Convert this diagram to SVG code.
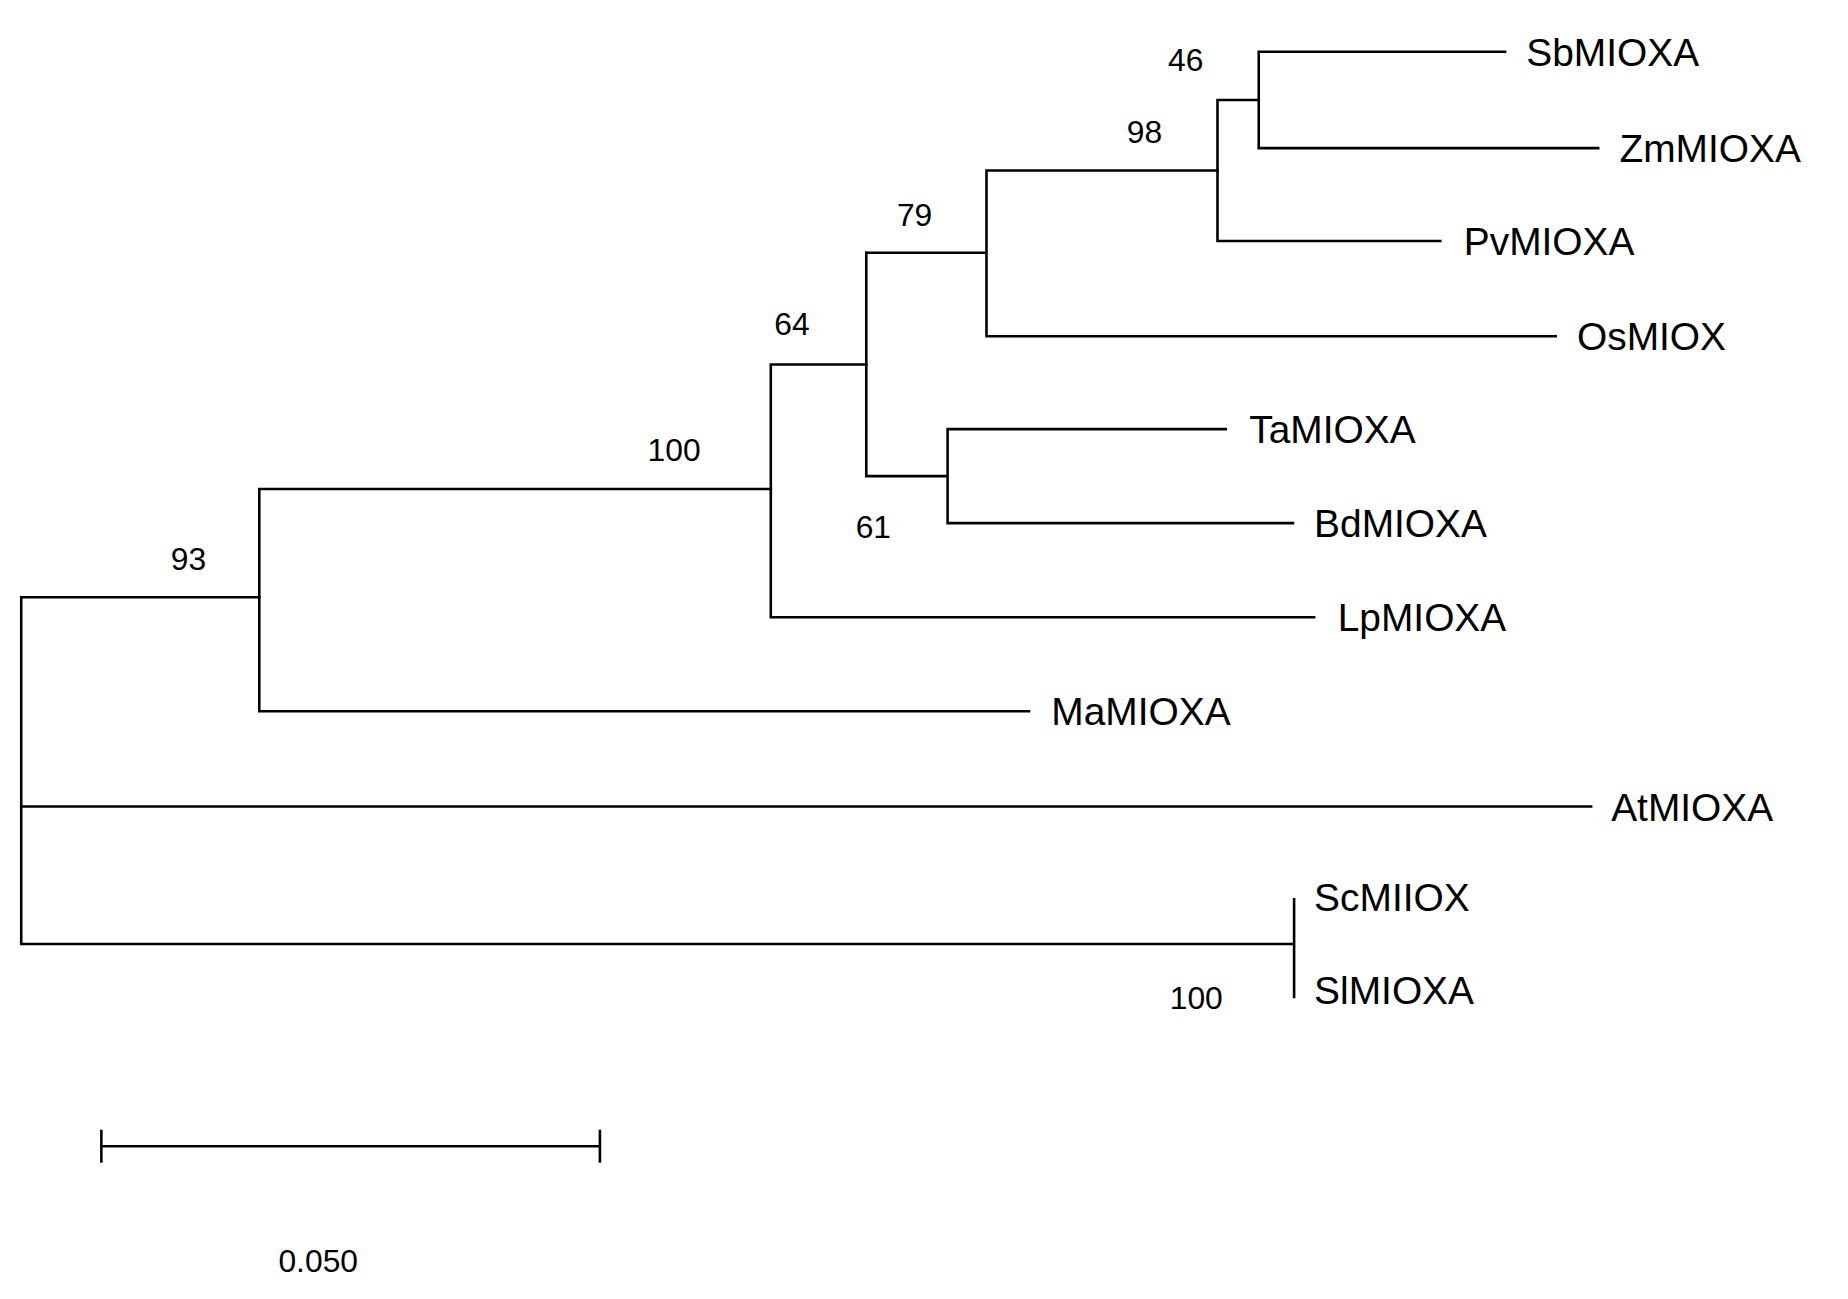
<svg xmlns="http://www.w3.org/2000/svg" width="1848" height="1299" viewBox="0 0 1848 1299">
<style>
.b{stroke:#000;stroke-width:2.2;fill:none;stroke-linecap:square}
.t{font-family:"Liberation Sans",Arial,sans-serif;font-size:33px;fill:#000}
.s{font-family:"Liberation Sans",Arial,sans-serif;font-size:27px;fill:#000;text-anchor:middle}
</style>
<rect width="1848" height="1299" fill="#fff"/>
<g transform="scale(1.1786,1.1756)">
<g id="connectors" class="b">
<path d="M18 508V803M18 508H220M18 686H1350M18 803H1098M1098 765V848"/>
<path d="M220 416V605M220 605H873M220 416H654"/>
<path d="M654 310V525M654 525H1115M654 310H735"/>
<path d="M735 215V405M735 405H804M804 365V445M804 365H1040M804 445H1097"/>
<path d="M735 215H837M837 145V286M837 286H1320M837 145H1033"/>
<path d="M1033 85V205M1033 205H1222M1033 85H1068M1068 44V126M1068 44H1277M1068 126H1356"/>
<path d="M86 975H509M86 962V988M509 962V988"/>
</g>
<g id="leaves" class="t">
<text x="1295" y="56">SbMIOXA</text>
<text x="1374" y="138">ZmMIOXA</text>
<text x="1242" y="217">PvMIOXA</text>
<text x="1338" y="298">OsMIOX</text>
<text x="1060" y="377">TaMIOXA</text>
<text x="1115" y="457">BdMIOXA</text>
<text x="1135" y="537">LpMIOXA</text>
<text x="892" y="617">MaMIOXA</text>
<text x="1367" y="698">AtMIOXA</text>
<text x="1115" y="775">ScMIIOX</text>
<text x="1115" y="854">SlMIOXA</text>
</g>
<g id="bootstrap" class="s">
<text x="1006" y="60">46</text>
<text x="971" y="122">98</text>
<text x="776" y="192">79</text>
<text x="672" y="285">64</text>
<text x="572" y="392">100</text>
<text x="741" y="458">61</text>
<text x="160" y="485">93</text>
<text x="1015" y="858">100</text>
</g>
<g id="scale"><text class="s" x="270" y="1082">0.050</text></g>
</g>
</svg>
